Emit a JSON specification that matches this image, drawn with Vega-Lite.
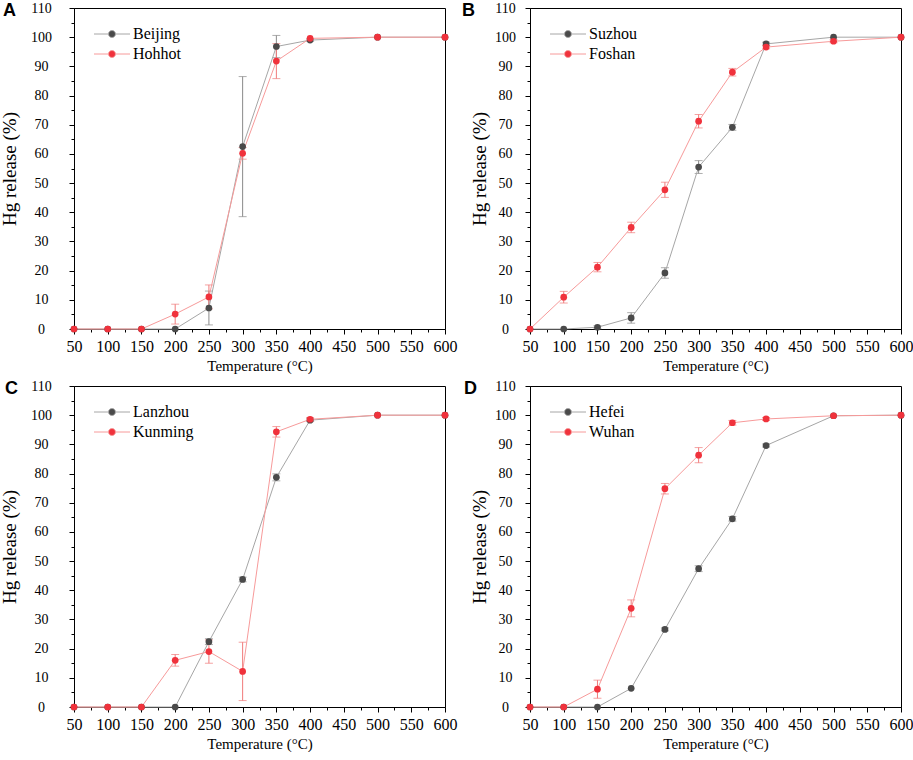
{
  "$schema": "https://vega.github.io/schema/vega-lite/v6.json",
  "background": "white",
  "padding": {"left": 0, "top": 0, "right": 0, "bottom": 0},
  "config": {
    "view": {"stroke": "#000", "strokeWidth": 1},
    "font": "Liberation Serif",
    "title": {"font": "Liberation Sans", "fontSize": 18, "fontWeight": "bold", "color": "#000", "anchor": "start", "frame": "group", "offset": -19},
    "axis": {"grid": false, "domainColor": "#000", "tickColor": "#000", "labelColor": "#000", "titleColor": "#000", "labelFont": "Liberation Serif", "titleFont": "Liberation Serif", "titleFontWeight": "normal", "labelFlush": false, "labelOverlap": false, "labelBound": false},
    "legend": {"orient": "none", "legendX": 30, "legendY": 18, "title": null, "symbolType": "M-3.6,0H-0.75M0.75,0H3.6M-0.7,0A0.7,0.7,0,1,0,0.7,0A0.7,0.7,0,1,0,-0.7,0", "symbolSize": 100, "symbolStrokeWidth": 1, "labelOffset": 13, "labelFontSize": 16, "labelFont": "Liberation Serif", "labelColor": "#000", "rowPadding": 4}
  },
  "data": {"values": [
    {"p": "A", "city": "Beijing", "T": 50, "v": 0},
    {"p": "A", "city": "Beijing", "T": 100, "v": 0},
    {"p": "A", "city": "Beijing", "T": 150, "v": 0},
    {"p": "A", "city": "Beijing", "T": 200, "v": 0},
    {"p": "A", "city": "Beijing", "T": 250, "v": 7.2, "e": 5.8},
    {"p": "A", "city": "Beijing", "T": 300, "v": 62.5, "e": 24},
    {"p": "A", "city": "Beijing", "T": 350, "v": 96.8, "e": 3.8},
    {"p": "A", "city": "Beijing", "T": 400, "v": 99.0, "e": 0.4},
    {"p": "A", "city": "Beijing", "T": 500, "v": 100},
    {"p": "A", "city": "Beijing", "T": 600, "v": 100},
    {"p": "A", "city": "Hohhot", "T": 50, "v": 0},
    {"p": "A", "city": "Hohhot", "T": 100, "v": 0},
    {"p": "A", "city": "Hohhot", "T": 150, "v": 0},
    {"p": "A", "city": "Hohhot", "T": 200, "v": 5.1, "e": 3.4},
    {"p": "A", "city": "Hohhot", "T": 250, "v": 11.0, "e": 4.1},
    {"p": "A", "city": "Hohhot", "T": 300, "v": 60.2, "e": 2},
    {"p": "A", "city": "Hohhot", "T": 350, "v": 91.8, "e": 6},
    {"p": "A", "city": "Hohhot", "T": 400, "v": 99.6},
    {"p": "A", "city": "Hohhot", "T": 500, "v": 100},
    {"p": "A", "city": "Hohhot", "T": 600, "v": 100},
    {"p": "B", "city": "Suzhou", "T": 50, "v": 0},
    {"p": "B", "city": "Suzhou", "T": 100, "v": 0},
    {"p": "B", "city": "Suzhou", "T": 150, "v": 0.6, "e": 0.5},
    {"p": "B", "city": "Suzhou", "T": 200, "v": 3.8, "e": 1.8},
    {"p": "B", "city": "Suzhou", "T": 250, "v": 19.2, "e": 1.8},
    {"p": "B", "city": "Suzhou", "T": 300, "v": 55.5, "e": 2.2},
    {"p": "B", "city": "Suzhou", "T": 350, "v": 69.1, "e": 1},
    {"p": "B", "city": "Suzhou", "T": 400, "v": 97.7, "e": 0.6},
    {"p": "B", "city": "Suzhou", "T": 500, "v": 100},
    {"p": "B", "city": "Suzhou", "T": 600, "v": 100},
    {"p": "B", "city": "Foshan", "T": 50, "v": 0},
    {"p": "B", "city": "Foshan", "T": 100, "v": 10.9, "e": 2},
    {"p": "B", "city": "Foshan", "T": 150, "v": 21.2, "e": 1.6},
    {"p": "B", "city": "Foshan", "T": 200, "v": 34.8, "e": 1.8},
    {"p": "B", "city": "Foshan", "T": 250, "v": 47.7, "e": 2.6},
    {"p": "B", "city": "Foshan", "T": 300, "v": 71.2, "e": 2.3},
    {"p": "B", "city": "Foshan", "T": 350, "v": 88.0, "e": 1.3},
    {"p": "B", "city": "Foshan", "T": 400, "v": 96.6, "e": 0.6},
    {"p": "B", "city": "Foshan", "T": 500, "v": 98.6, "e": 0.5},
    {"p": "B", "city": "Foshan", "T": 600, "v": 100},
    {"p": "C", "city": "Lanzhou", "T": 50, "v": 0},
    {"p": "C", "city": "Lanzhou", "T": 100, "v": 0},
    {"p": "C", "city": "Lanzhou", "T": 150, "v": 0},
    {"p": "C", "city": "Lanzhou", "T": 200, "v": 0},
    {"p": "C", "city": "Lanzhou", "T": 250, "v": 22.4, "e": 1},
    {"p": "C", "city": "Lanzhou", "T": 300, "v": 43.7, "e": 0.8},
    {"p": "C", "city": "Lanzhou", "T": 350, "v": 78.7, "e": 1.2},
    {"p": "C", "city": "Lanzhou", "T": 400, "v": 98.3, "e": 0.5},
    {"p": "C", "city": "Lanzhou", "T": 500, "v": 100},
    {"p": "C", "city": "Lanzhou", "T": 600, "v": 100},
    {"p": "C", "city": "Kunming", "T": 50, "v": 0},
    {"p": "C", "city": "Kunming", "T": 100, "v": 0},
    {"p": "C", "city": "Kunming", "T": 150, "v": 0},
    {"p": "C", "city": "Kunming", "T": 200, "v": 16.0, "e": 2},
    {"p": "C", "city": "Kunming", "T": 250, "v": 19.0, "e": 4},
    {"p": "C", "city": "Kunming", "T": 300, "v": 12.2, "e": 10},
    {"p": "C", "city": "Kunming", "T": 350, "v": 94.3, "e": 1.8},
    {"p": "C", "city": "Kunming", "T": 400, "v": 98.6, "e": 0.6},
    {"p": "C", "city": "Kunming", "T": 500, "v": 100},
    {"p": "C", "city": "Kunming", "T": 600, "v": 100},
    {"p": "D", "city": "Hefei", "T": 50, "v": 0},
    {"p": "D", "city": "Hefei", "T": 100, "v": 0},
    {"p": "D", "city": "Hefei", "T": 150, "v": 0},
    {"p": "D", "city": "Hefei", "T": 200, "v": 6.4},
    {"p": "D", "city": "Hefei", "T": 250, "v": 26.6, "e": 0.5},
    {"p": "D", "city": "Hefei", "T": 300, "v": 47.4, "e": 1},
    {"p": "D", "city": "Hefei", "T": 350, "v": 64.5, "e": 0.8},
    {"p": "D", "city": "Hefei", "T": 400, "v": 89.6, "e": 0.5},
    {"p": "D", "city": "Hefei", "T": 500, "v": 99.8},
    {"p": "D", "city": "Hefei", "T": 600, "v": 100},
    {"p": "D", "city": "Wuhan", "T": 50, "v": 0},
    {"p": "D", "city": "Wuhan", "T": 100, "v": 0},
    {"p": "D", "city": "Wuhan", "T": 150, "v": 6.1, "e": 3.1},
    {"p": "D", "city": "Wuhan", "T": 200, "v": 33.8, "e": 2.9},
    {"p": "D", "city": "Wuhan", "T": 250, "v": 74.8, "e": 1.8},
    {"p": "D", "city": "Wuhan", "T": 300, "v": 86.3, "e": 2.6},
    {"p": "D", "city": "Wuhan", "T": 350, "v": 97.4, "e": 0.8},
    {"p": "D", "city": "Wuhan", "T": 400, "v": 98.7, "e": 0.5},
    {"p": "D", "city": "Wuhan", "T": 500, "v": 99.8},
    {"p": "D", "city": "Wuhan", "T": 600, "v": 100}
  ]},
  "columns": 2,
  "spacing": {"row": 4, "column": 3},
  "resolve": {
    "scale": {"x": "independent", "y": "independent", "fill": "independent", "stroke": "independent"}
  },
  "concat": [
    {
      "title": {"text": "A", "dx": -71},
      "width": 371, "height": 321,
      "transform": [{"filter": "datum.p == 'A'"}],
      "encoding": {
        "x": {"field": "T", "type": "quantitative", "scale": {"domain": [50, 600], "nice": false, "zero": false},
          "axis": {"title": "Temperature (°C)", "values": [50, 75, 100, 125, 150, 175, 200, 225, 250, 275, 300, 325, 350, 375, 400, 425, 450, 475, 500, 525, 550, 575, 600], "labelExpr": "datum.value % 50 == 0 ? datum.label : ''", "tickSize": {"condition": {"test": "datum.value % 50 == 0", "value": 5}, "value": 3}, "labelOverlap": false, "labelFontSize": 16, "labelPadding": 4, "titleFontSize": 15, "titlePadding": 4}},
        "y": {"field": "v", "type": "quantitative", "scale": {"domain": [0, 110], "nice": false},
          "axis": {"title": "Hg release (%)", "values": [0, 5, 10, 15, 20, 25, 30, 35, 40, 45, 50, 55, 60, 65, 70, 75, 80, 85, 90, 95, 100, 105, 110], "labelExpr": "datum.value % 10 == 0 ? datum.label : ''", "tickSize": {"condition": {"test": "datum.value % 10 == 0", "value": 5}, "value": 3}, "labelOverlap": false, "labelFontSize": 14, "labelAlign": "center", "labelBaseline": "middle", "labelPadding": 28, "titleFontSize": 19, "titlePadding": 11}}
      },
      "layer": [
        {"transform": [{"filter": "datum.e > 0 && datum.city == 'Beijing'"}], "mark": {"type": "errorbar", "ticks": {"size": 8}, "thickness": 1, "color": "#8a8a8a"}, "encoding": {"yError": {"field": "e"}}},
        {"transform": [{"filter": "datum.e > 0 && datum.city == 'Hohhot'"}], "mark": {"type": "errorbar", "ticks": {"size": 8}, "thickness": 1, "color": "#f07a7a"}, "encoding": {"yError": {"field": "e"}}},
        {"mark": {"type": "line", "strokeWidth": 1}, "encoding": {"stroke": {"field": "city", "type": "nominal", "scale": {"domain": ["Beijing", "Hohhot"], "range": ["#a6a6a6", "#f79a9a"]}}}},
        {"mark": {"type": "point", "filled": true, "size": 45, "opacity": 1}, "encoding": {"fill": {"field": "city", "type": "nominal", "scale": {"domain": ["Beijing", "Hohhot"], "range": ["#4a4a4a", "#f0323c"]}}}}
      ]
    },
    {
      "title": {"text": "B", "dx": -68},
      "width": 371, "height": 321,
      "transform": [{"filter": "datum.p == 'B'"}],
      "encoding": {
        "x": {"field": "T", "type": "quantitative", "scale": {"domain": [50, 600], "nice": false, "zero": false},
          "axis": {"title": "Temperature (°C)", "values": [50, 75, 100, 125, 150, 175, 200, 225, 250, 275, 300, 325, 350, 375, 400, 425, 450, 475, 500, 525, 550, 575, 600], "labelExpr": "datum.value % 50 == 0 ? datum.label : ''", "tickSize": {"condition": {"test": "datum.value % 50 == 0", "value": 5}, "value": 3}, "labelOverlap": false, "labelFontSize": 16, "labelPadding": 4, "titleFontSize": 15, "titlePadding": 4}},
        "y": {"field": "v", "type": "quantitative", "scale": {"domain": [0, 110], "nice": false},
          "axis": {"title": "Hg release (%)", "values": [0, 5, 10, 15, 20, 25, 30, 35, 40, 45, 50, 55, 60, 65, 70, 75, 80, 85, 90, 95, 100, 105, 110], "labelExpr": "datum.value % 10 == 0 ? datum.label : ''", "tickSize": {"condition": {"test": "datum.value % 10 == 0", "value": 5}, "value": 3}, "labelOverlap": false, "labelFontSize": 14, "labelAlign": "center", "labelBaseline": "middle", "labelPadding": 20, "titleFontSize": 19, "titlePadding": 5}}
      },
      "layer": [
        {"transform": [{"filter": "datum.e > 0 && datum.city == 'Suzhou'"}], "mark": {"type": "errorbar", "ticks": {"size": 8}, "thickness": 1, "color": "#8a8a8a"}, "encoding": {"yError": {"field": "e"}}},
        {"transform": [{"filter": "datum.e > 0 && datum.city == 'Foshan'"}], "mark": {"type": "errorbar", "ticks": {"size": 8}, "thickness": 1, "color": "#f07a7a"}, "encoding": {"yError": {"field": "e"}}},
        {"mark": {"type": "line", "strokeWidth": 1}, "encoding": {"stroke": {"field": "city", "type": "nominal", "scale": {"domain": ["Suzhou", "Foshan"], "range": ["#a6a6a6", "#f79a9a"]}}}},
        {"mark": {"type": "point", "filled": true, "size": 45, "opacity": 1}, "encoding": {"fill": {"field": "city", "type": "nominal", "scale": {"domain": ["Suzhou", "Foshan"], "range": ["#4a4a4a", "#f0323c"]}}}}
      ]
    },
    {
      "title": {"text": "C", "dx": -69},
      "width": 371, "height": 321,
      "transform": [{"filter": "datum.p == 'C'"}],
      "encoding": {
        "x": {"field": "T", "type": "quantitative", "scale": {"domain": [50, 600], "nice": false, "zero": false},
          "axis": {"title": "Temperature (°C)", "values": [50, 75, 100, 125, 150, 175, 200, 225, 250, 275, 300, 325, 350, 375, 400, 425, 450, 475, 500, 525, 550, 575, 600], "labelExpr": "datum.value % 50 == 0 ? datum.label : ''", "tickSize": {"condition": {"test": "datum.value % 50 == 0", "value": 5}, "value": 3}, "labelOverlap": false, "labelFontSize": 16, "labelPadding": 4, "titleFontSize": 15, "titlePadding": 4}},
        "y": {"field": "v", "type": "quantitative", "scale": {"domain": [0, 110], "nice": false},
          "axis": {"title": "Hg release (%)", "values": [0, 5, 10, 15, 20, 25, 30, 35, 40, 45, 50, 55, 60, 65, 70, 75, 80, 85, 90, 95, 100, 105, 110], "labelExpr": "datum.value % 10 == 0 ? datum.label : ''", "tickSize": {"condition": {"test": "datum.value % 10 == 0", "value": 5}, "value": 3}, "labelOverlap": false, "labelFontSize": 14, "labelAlign": "center", "labelBaseline": "middle", "labelPadding": 28, "titleFontSize": 19, "titlePadding": 11}}
      },
      "layer": [
        {"transform": [{"filter": "datum.e > 0 && datum.city == 'Lanzhou'"}], "mark": {"type": "errorbar", "ticks": {"size": 8}, "thickness": 1, "color": "#8a8a8a"}, "encoding": {"yError": {"field": "e"}}},
        {"transform": [{"filter": "datum.e > 0 && datum.city == 'Kunming'"}], "mark": {"type": "errorbar", "ticks": {"size": 8}, "thickness": 1, "color": "#f07a7a"}, "encoding": {"yError": {"field": "e"}}},
        {"mark": {"type": "line", "strokeWidth": 1}, "encoding": {"stroke": {"field": "city", "type": "nominal", "scale": {"domain": ["Lanzhou", "Kunming"], "range": ["#a6a6a6", "#f79a9a"]}}}},
        {"mark": {"type": "point", "filled": true, "size": 45, "opacity": 1}, "encoding": {"fill": {"field": "city", "type": "nominal", "scale": {"domain": ["Lanzhou", "Kunming"], "range": ["#4a4a4a", "#f0323c"]}}}}
      ]
    },
    {
      "title": {"text": "D", "dx": -66},
      "width": 371, "height": 321,
      "transform": [{"filter": "datum.p == 'D'"}],
      "encoding": {
        "x": {"field": "T", "type": "quantitative", "scale": {"domain": [50, 600], "nice": false, "zero": false},
          "axis": {"title": "Temperature (°C)", "values": [50, 75, 100, 125, 150, 175, 200, 225, 250, 275, 300, 325, 350, 375, 400, 425, 450, 475, 500, 525, 550, 575, 600], "labelExpr": "datum.value % 50 == 0 ? datum.label : ''", "tickSize": {"condition": {"test": "datum.value % 50 == 0", "value": 5}, "value": 3}, "labelOverlap": false, "labelFontSize": 16, "labelPadding": 4, "titleFontSize": 15, "titlePadding": 4}},
        "y": {"field": "v", "type": "quantitative", "scale": {"domain": [0, 110], "nice": false},
          "axis": {"title": "Hg release (%)", "values": [0, 5, 10, 15, 20, 25, 30, 35, 40, 45, 50, 55, 60, 65, 70, 75, 80, 85, 90, 95, 100, 105, 110], "labelExpr": "datum.value % 10 == 0 ? datum.label : ''", "tickSize": {"condition": {"test": "datum.value % 10 == 0", "value": 5}, "value": 3}, "labelOverlap": false, "labelFontSize": 14, "labelAlign": "center", "labelBaseline": "middle", "labelPadding": 20, "titleFontSize": 19, "titlePadding": 5}}
      },
      "layer": [
        {"transform": [{"filter": "datum.e > 0 && datum.city == 'Hefei'"}], "mark": {"type": "errorbar", "ticks": {"size": 8}, "thickness": 1, "color": "#8a8a8a"}, "encoding": {"yError": {"field": "e"}}},
        {"transform": [{"filter": "datum.e > 0 && datum.city == 'Wuhan'"}], "mark": {"type": "errorbar", "ticks": {"size": 8}, "thickness": 1, "color": "#f07a7a"}, "encoding": {"yError": {"field": "e"}}},
        {"mark": {"type": "line", "strokeWidth": 1}, "encoding": {"stroke": {"field": "city", "type": "nominal", "scale": {"domain": ["Hefei", "Wuhan"], "range": ["#a6a6a6", "#f79a9a"]}}}},
        {"mark": {"type": "point", "filled": true, "size": 45, "opacity": 1}, "encoding": {"fill": {"field": "city", "type": "nominal", "scale": {"domain": ["Hefei", "Wuhan"], "range": ["#4a4a4a", "#f0323c"]}}}}
      ]
    }
  ]
}
